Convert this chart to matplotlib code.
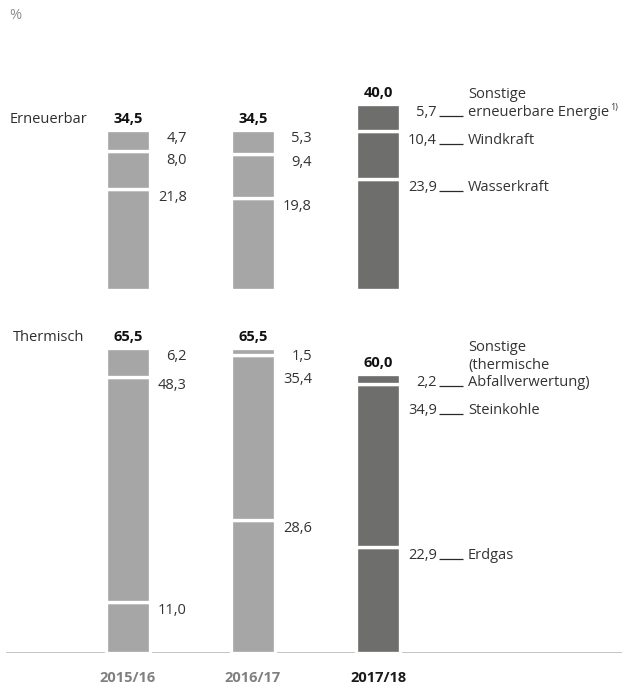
import matplotlib
matplotlib.use('Agg')
import matplotlib.pyplot as plt
import matplotlib.transforms as mtransforms
import numpy as np

plt.rcParams['font.family'] = ['Open Sans', 'DejaVu Sans']

# ---------------- data ----------------
years = ['2015/16', '2016/17', '2017/18']

renew_names = ['Wasserkraft', 'Windkraft', 'Sonstige\nerneuerbare Energie']
renew_notes = ['', '', '1)']
renew_hydro = [21.8, 19.8, 23.9]
renew_wind = [8.0, 9.4, 10.4]
renew_other = [4.7, 5.3, 5.7]
renew_total = [34.5, 34.5, 40.0]

therm_names = ['Erdgas', 'Steinkohle', 'Sonstige\n(thermische\nAbfallverwertung)']
therm_notes = ['', '', '']
therm_gas = [11.0, 28.6, 22.9]
therm_coal = [48.3, 35.4, 34.9]
therm_other = [6.2, 1.5, 2.2]
therm_total = [65.5, 65.5, 60.0]

panel_titles = ['Erneuerbar', 'Thermisch']
unit_label = '%'

# ---------------- layout / style ----------------
W, H = 622, 688
PPU = 4.65          # pixels per percentage point
X0_PX, STEP_PX = 128, 125
BAR_PX = 44.5
FS = 10.5
bar_colors = ['#a6a6a6', '#a6a6a6', '#6e6e6c']
tick_colors = ['#808080', '#808080', '#1a1a1a']
TXT = '#333333'
highlight = 2

fig = plt.figure(figsize=(W / 100, H / 100), dpi=100)
fig.patch.set_facecolor('white')


def fmt(v):
    return f"{v:.1f}".replace('.', ',')


def make_axes(base_px, ymax):
    ax = fig.add_axes([0, (H - base_px) / H, 1, ymax * PPU / H])
    ax.set_ylim(0, ymax)
    ax.set_xlim(-X0_PX / STEP_PX, (W - X0_PX) / STEP_PX)
    ax.set_facecolor('none')
    for s in ax.spines.values():
        s.set_visible(False)
    ax.set_yticks([])
    return ax


footnote_jobs = []


def draw_panel(ax, series, totals, names, notes, title, title_x_px):
    x = np.arange(len(years))
    stack = np.array(series)
    nseg, n = stack.shape
    bottoms = np.vstack([np.zeros(n), np.cumsum(stack, axis=0)[:-1]])
    tops = bottoms + stack
    width = BAR_PX / STEP_PX
    for i in range(nseg):
        ax.bar(x, stack[i], bottom=bottoms[i], width=width, color=bar_colors,
               edgecolor='white', linewidth=2.4, zorder=2)
    off = mtransforms.offset_copy(ax.transData, fig=fig, x=0, y=-12, units='dots')
    for j in range(n):
        prev = None
        min_gap = (28 if j == highlight else 22.5) / PPU
        for i in reversed(range(nseg)):
            y = tops[i, j]
            if prev is not None:
                y = min(y, prev - min_gap)
            prev = y
            ax.annotate(fmt(stack[i, j]), xy=(x[j] + 59 / STEP_PX, y),
                        xytext=(0, -12), textcoords='offset pixels',
                        ha='right', va='baseline', fontsize=FS, color=TXT)
            if j == highlight:
                ax.plot([x[j] + 61 / STEP_PX, x[j] + 85 / STEP_PX], [y, y],
                        transform=off, color='#2a2a2a', lw=0.9,
                        solid_capstyle='butt', zorder=3)
                lines = names[i].split('\n')
                for k, line in enumerate(reversed(lines)):
                    t = ax.annotate(line, xy=(x[j] + 90 / STEP_PX, y),
                                    xytext=(0, -12 + k * 17.5),
                                    textcoords='offset pixels',
                                    ha='left', va='baseline', fontsize=FS,
                                    color=TXT)
                    if k == 0 and notes[i]:
                        footnote_jobs.append((t, notes[i], ax, y))
        ax.annotate(fmt(totals[j]), xy=(x[j], totals[j]), xytext=(0, 7),
                    textcoords='offset pixels', ha='center', va='baseline',
                    fontsize=FS, fontweight='bold', color='#111111')
    ax.annotate(title, xy=(title_x_px, totals[0]),
                xycoords=('figure pixels', 'data'), xytext=(0, 7),
                textcoords='offset pixels', ha='left', va='baseline',
                fontsize=FS, color='#2e2e2e')
    return x


ax_top = make_axes(290, 45)
ax_bot = make_axes(653, 70)

draw_panel(ax_top, [renew_hydro, renew_wind, renew_other], renew_total,
           renew_names, renew_notes, panel_titles[0], 10)
xb = draw_panel(ax_bot, [therm_gas, therm_coal, therm_other], therm_total,
                therm_names, therm_notes, panel_titles[1], 13)

ax_top.set_xticks([])
ax_bot.axhline(0, xmin=7.5 / W, xmax=1, color='#b3b3b3', lw=1.1, zorder=1)
ax_bot.set_xticks(xb)
ax_bot.set_xticklabels(years, fontsize=FS, fontweight='bold')
ax_bot.tick_params(axis='x', length=0, pad=13)
for lbl, c in zip(ax_bot.get_xticklabels(), tick_colors):
    lbl.set_color(c)

fig.text(9 / W, 1 - 19 / H, unit_label, ha='left', va='baseline',
         fontsize=FS, color='#8c8c8c')

# superscript footnote markers
fig.canvas.draw()
renderer = fig.canvas.get_renderer()
for t, note, ax, y in footnote_jobs:
    bb = t.get_window_extent(renderer)
    base = ax.transData.transform((0, y))[1] - 12
    fig.text((bb.x1 + 1) / W, (base + 6) / H, note, ha='left', va='baseline',
             fontsize=6.5, color=TXT)

fig.savefig('out.png', dpi=100)
